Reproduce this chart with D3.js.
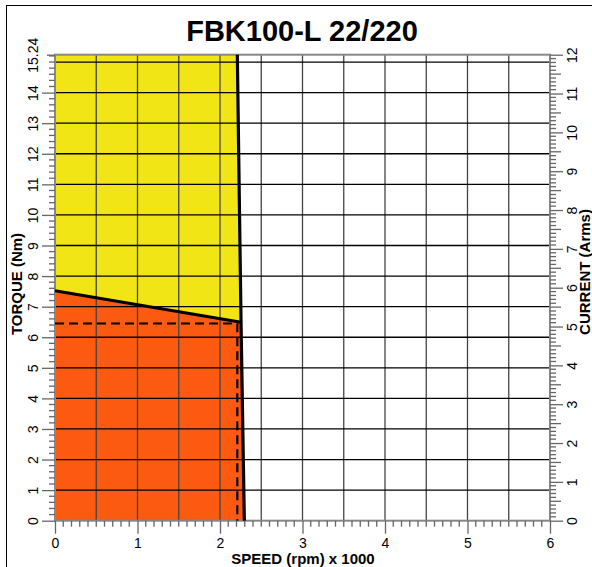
<!DOCTYPE html>
<html><head><meta charset="utf-8">
<script src="https://cdn.jsdelivr.net/npm/d3@7"></script>
<style>body{margin:0;background:#fff;} svg{display:block;font-family:"Liberation Sans",Arial,sans-serif;}</style>
</head><body>
<script>
// ---- data ----
const title = "FBK100-L 22/220";
const peakSpeed = [0, 2.255];          // x1000 rpm
const peakTorque = [7.52, 6.49];       // Nm
const limitSpeed = [2.21, 2.255, 2.295];
const limitTorque = [15.24, 6.49, 0];
const ratedSpeed = [2.21];
const ratedTorque = [6.45];
const xTicks = [0, 1, 2, 3, 4, 5, 6];
const yTicks = [0, 1, 2, 3, 4, 5, 6, 7, 8, 9, 10, 11, 12, 13, 14, 15.24];
const yRTicks = [0, 1, 2, 3, 4, 5, 6, 7, 8, 9, 10, 11, 12];
const xMax = 6, yMax = 15.24, yRMax = 12;

const W = 592, H = 567;
const L = 55, R = 550, T = 54.7, B = 520.7;
const svg = d3.select("body").append("svg").attr("width", W).attr("height", H);

const x = d3.scaleLinear().domain([0, xMax]).range([L, R]);
const y = d3.scaleLinear().domain([0, yMax]).range([B, T]);
const yR = d3.scaleLinear().domain([0, yRMax]).range([B, T]);

// frame
svg.append("rect").attr("x", 6.5).attr("y", 5.5).attr("width", W).attr("height", H)
  .attr("fill", "none").attr("stroke", "#000").attr("stroke-width", 1);

// fills
const peak = peakSpeed.map((s, i) => [s, peakTorque[i]]);
const limit = limitSpeed.map((s, i) => [s, limitTorque[i]]);
const line = d3.line().x(d => x(d[0])).y(d => y(d[1]));
const yellowPoly = [[0, yMax], limit[0], limit[1], ...peak.slice().reverse()];
const orangePoly = [...peak, limit[1], limit[2], [0, 0]];
svg.append("path").attr("d", line(yellowPoly) + "Z").attr("fill", "#f1e516");
svg.append("path").attr("d", line(orangePoly) + "Z").attr("fill", "#fb5a10");

// grid
const g = svg.append("g");
g.selectAll(".vg").data(d3.range(1, 12).map(i => i * 0.5)).join("line")
  .attr("x1", d => x(d)).attr("x2", d => x(d)).attr("y1", T).attr("y2", B)
  .attr("stroke", "#444").attr("stroke-width", 1.3);
g.selectAll(".hg").data(d3.range(1, 16)).join("line")
  .attr("x1", L).attr("x2", R).attr("y1", d => y(d)).attr("y2", d => y(d))
  .attr("stroke", "#000").attr("stroke-width", 1.3);

// axes frame
svg.append("rect").attr("x", L).attr("y", T).attr("width", R - L).attr("height", B - T)
  .attr("fill", "none").attr("stroke", "#888").attr("stroke-width", 2);

// curves
svg.append("path").attr("d", line(peak)).attr("fill", "none").attr("stroke", "#000").attr("stroke-width", 3.2);
svg.append("path").attr("d", line(limit)).attr("fill", "none").attr("stroke", "#000").attr("stroke-width", 3.2);
svg.append("path").attr("d", line([[0, ratedTorque[0]], [ratedSpeed[0], ratedTorque[0]], [ratedSpeed[0], 0]]))
  .attr("fill", "none").attr("stroke", "#000").attr("stroke-width", 2.2).attr("stroke-dasharray", "9,5");

const tickColor = "#666";
// bottom minor
svg.append("g").selectAll("line").data(d3.range(0, 61).map(i => i / 10).filter(v => Math.abs(v - Math.round(v)) > 1e-6))
  .join("line").attr("x1", d => x(d)).attr("x2", d => x(d)).attr("y1", B).attr("y2", B + 6)
  .attr("stroke", tickColor).attr("stroke-width", 1.3);
// left minor
svg.append("g").selectAll("line").data(d3.range(0, 77).map(i => i / 5).filter(v => v <= yMax && (Math.abs(v - Math.round(v)) > 1e-6 || Math.round(v) === 15)))
  .join("line").attr("x1", L - 6).attr("x2", L).attr("y1", d => y(d)).attr("y2", d => y(d))
  .attr("stroke", tickColor).attr("stroke-width", 1.3);
// right minor
svg.append("g").selectAll("line").data(d3.range(0, 121).map(i => i / 10).filter(v => Math.abs(v - Math.round(v)) > 1e-6))
  .join("line").attr("x1", R).attr("x2", d => Math.abs(d * 2 - Math.round(d * 2)) < 1e-6 ? R + 11 : R + 6)
  .attr("y1", d => yR(d)).attr("y2", d => yR(d))
  .attr("stroke", tickColor).attr("stroke-width", 1.3);

// main axes
const axB = svg.append("g").attr("transform", `translate(0,${B})`)
  .call(d3.axisBottom(x).tickValues(xTicks).tickSize(13).tickFormat(d3.format("d")));
axB.selectAll("text").attr("y", 17).attr("dy", "0.71em");
const axL = svg.append("g").attr("transform", `translate(${L},0)`)
  .call(d3.axisLeft(y).tickValues(yTicks).tickSize(13).tickFormat(d => d === 15.24 ? "15.24" : d3.format("d")(d)));
axL.selectAll("text").attr("transform", "rotate(-90)").attr("x", 0).attr("y", -17).attr("dy", 0)
  .attr("text-anchor", "middle");
const axR = svg.append("g").attr("transform", `translate(${R},0)`)
  .call(d3.axisRight(yR).tickValues(yRTicks).tickSize(13).tickFormat(d3.format("d")));
axR.selectAll("text").attr("transform", "rotate(-90)").attr("x", 0).attr("y", 27).attr("dy", 0)
  .attr("text-anchor", "middle");
[axB, axL, axR].forEach(a => {
  a.select(".domain").remove();
  a.selectAll("line").attr("stroke", tickColor).attr("stroke-width", 1.3);
  a.selectAll("text").attr("fill", "#000").attr("font-size", 14).attr("font-family", "Liberation Sans, Arial, sans-serif");
});
axL.selectAll(".tick").filter(d => d === 15.24).select("line").attr("x2", -8);

// titles
svg.append("text").attr("x", 302).attr("y", 41).attr("text-anchor", "middle")
  .attr("font-size", 29).attr("font-weight", "bold").text(title);
svg.append("text").attr("x", 303).attr("y", 564).attr("text-anchor", "middle")
  .attr("font-size", 15).attr("font-weight", "bold").text("SPEED (rpm) x 1000");
svg.append("text").attr("transform", `translate(22,284) rotate(-90)`).attr("text-anchor", "middle")
  .attr("font-size", 15).attr("font-weight", "bold").text("TORQUE (Nm)");
svg.append("text").attr("transform", `translate(590,272) rotate(-90)`).attr("text-anchor", "middle")
  .attr("font-size", 15).attr("font-weight", "bold").text("CURRENT (Arms)");
</script>
</body></html>
